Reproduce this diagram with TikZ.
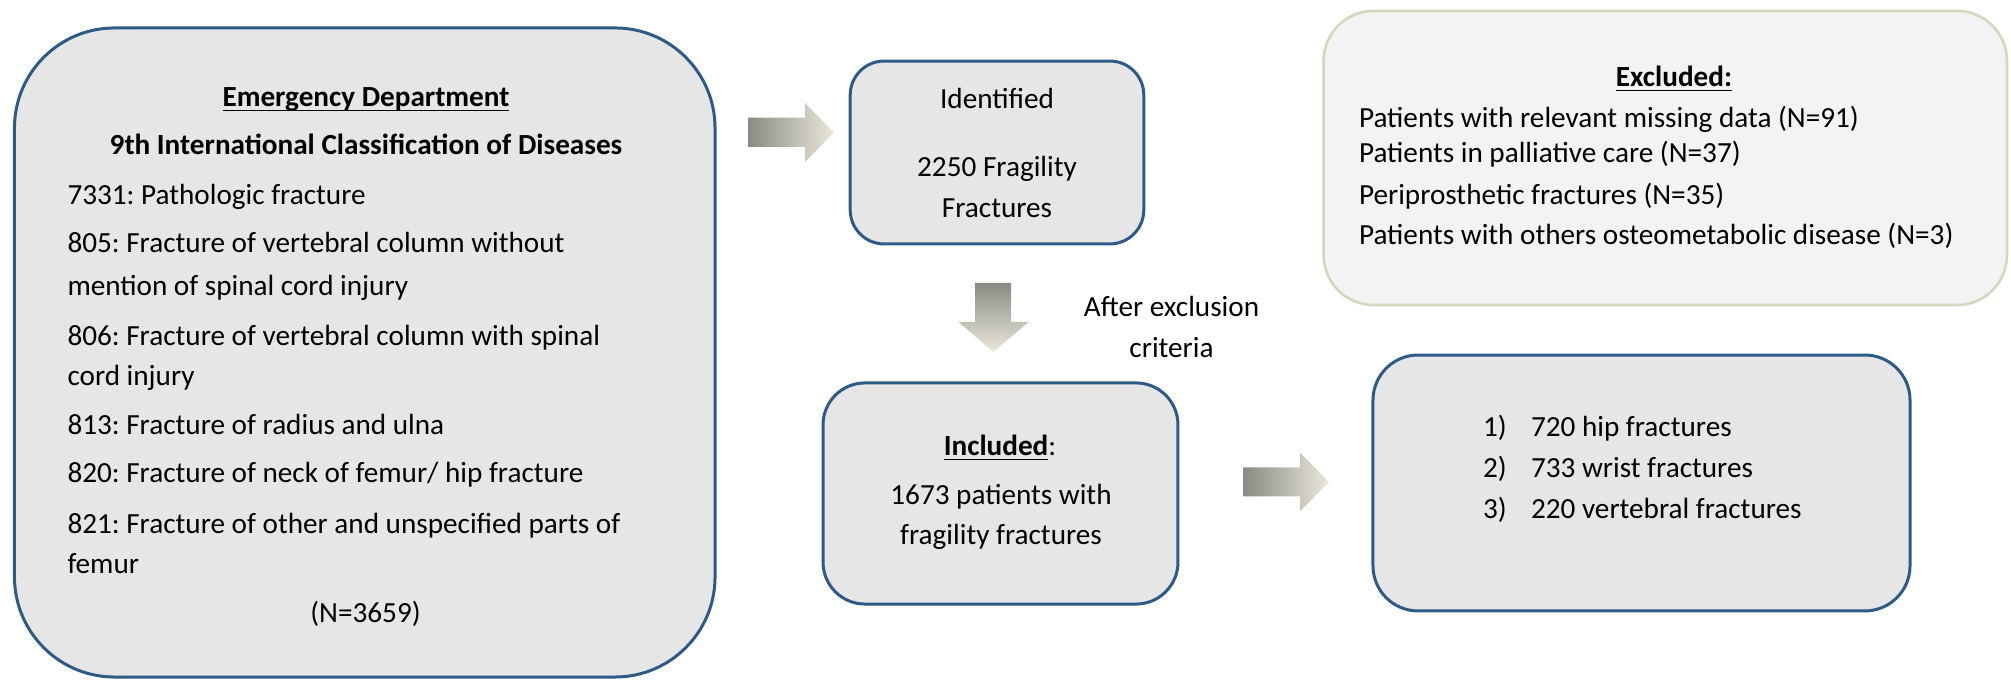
\documentclass[tikz,border=0pt]{standalone}
\usepackage{fontspec}
\setmainfont{Carlito}
\frenchspacing
\newcommand\myul[1]{\setbox0\hbox{#1}\rlap{\rule[-1.6pt]{\wd0}{0.6pt}}\box0}
\definecolor{boxgray}{HTML}{E6E6E6}
\definecolor{boxblue}{HTML}{2E5A88}
\definecolor{exfill}{HTML}{F3F3F3}
\definecolor{exline}{HTML}{D8D5BD}
\definecolor{arrdark}{HTML}{8A8A82}
\definecolor{arrlight}{HTML}{EAE8DA}
\tikzset{
  box/.style={draw=boxblue, fill=boxgray, line width=1.13pt, inner sep=0pt, outer sep=0pt},
  exbox/.style={draw=exline, fill=exfill, line width=1.0pt, inner sep=0pt, outer sep=0pt},
  txt/.style={inner sep=0pt, outer sep=0pt, font=\fontsize{11}{13}\selectfont\frenchspacing},
  lt/.style={txt, anchor=base west},
  ct/.style={txt, anchor=base},
  blockarrow/.style={left color=arrdark, right color=arrlight, draw=none},
  downarrow/.style={top color=arrdark, bottom color=arrlight, draw=none}
}
\begin{document}
\begin{tikzpicture}[x=0.3767pt, y=-0.3767pt]
\useasboundingbox (0,0) rectangle (2011,680);

% boxes
\node[box, rounded corners=37.7pt, minimum width=263.9pt, minimum height=244.5pt] (ed) at (364.75,352.5) {};
\node[box, rounded corners=12.8pt, minimum width=110.6pt, minimum height=68.9pt] (id) at (997,152.5) {};
\node[box, rounded corners=15.8pt, minimum width=133.7pt, minimum height=83.3pt] (inc) at (1000.5,493.5) {};
\node[box, rounded corners=17pt, minimum width=202.3pt, minimum height=96.4pt] (res) at (1641.5,483) {};
\node[exbox, rounded corners=18.8pt, minimum width=257.4pt, minimum height=110.8pt] (exc) at (1665.3,158) {};

% Emergency department text
\node[ct] (ed1) at (366,107) {\textbf{\myul{Emergency Department}}};
\node[ct] (ed2) at (366,155) {\textbf{9th International Classification of Diseases}};
\node[lt] (ed3) at (67.5,205) {7331: Pathologic fracture};
\node[lt] (ed4) at (67.5,253) {805: Fracture of vertebral column without};
\node[lt] (ed5) at (67.5,296) {mention of spinal cord injury};
\node[lt] (ed6) at (67.5,346) {806: Fracture of vertebral column with spinal};
\node[lt] (ed7) at (67.5,386) {cord injury};
\node[lt] (ed8) at (67.5,435) {813: Fracture of radius and ulna};
\node[lt] (ed9) at (67.5,483) {820: Fracture of neck of femur/ hip fracture};
\node[lt] (ed10) at (67.5,534) {821: Fracture of other and unspecified parts of};
\node[lt] (ed11) at (67.5,574) {femur};
\node[ct] (ed12) at (365.5,623) {(N=3659)};

% Identified
\node[ct] (id1) at (997,109) {Identified};
\node[ct] (id2) at (997,177) {2250 Fragility};
\node[ct] (id3) at (997,218) {Fractures};

% After exclusion
\node[ct] (ae1) at (1171.5,317) {After exclusion};
\node[ct] (ae2) at (1171.5,358) {criteria};

% Included
\node[ct] (in1) at (1000,456) {\textbf{\myul{Included}}:};
\node[ct] (in2) at (1001,505) {1673 patients with};
\node[ct] (in3) at (1001,545) {fragility fractures};

% Results
\node[lt] (r1n) at (1483,437) {1)};
\node[lt] (r1) at (1531,437) {720 hip fractures};
\node[lt] (r2n) at (1483,478) {2)};
\node[lt] (r2) at (1531,478) {733 wrist fractures};
\node[lt] (r3n) at (1483,519) {3)};
\node[lt] (r3) at (1531,519) {220 vertebral fractures};

% Excluded
\node[ct] (ex0) at (1674,87) {\textbf{\myul{Excluded:}}};
\node[lt] (ex1) at (1359,128) {Patients with relevant missing data (N=91)};
\node[lt] (ex2) at (1359,163) {Patients in palliative care (N=37)};
\node[lt] (ex3) at (1359,205) {Periprosthetic fractures (N=35)};
\node[lt] (ex4) at (1359,245) {Patients with others osteometabolic disease (N=3)};

% block arrows
\shade[blockarrow] (748,117.7) -- (805,117.7) -- (805,103) -- (834,132.5) -- (805,162) -- (805,147) -- (748,147) -- cycle;
\shade[downarrow] (975,283) -- (1011,283) -- (1011,322) -- (1028.5,322) -- (993.5,352) -- (958.5,322) -- (975,322) -- cycle;
\shade[blockarrow] (1243,467.5) -- (1300,467.5) -- (1300,452.5) -- (1329,482) -- (1300,511.5) -- (1300,496.5) -- (1243,496.5) -- cycle;
\end{tikzpicture}
\end{document}
